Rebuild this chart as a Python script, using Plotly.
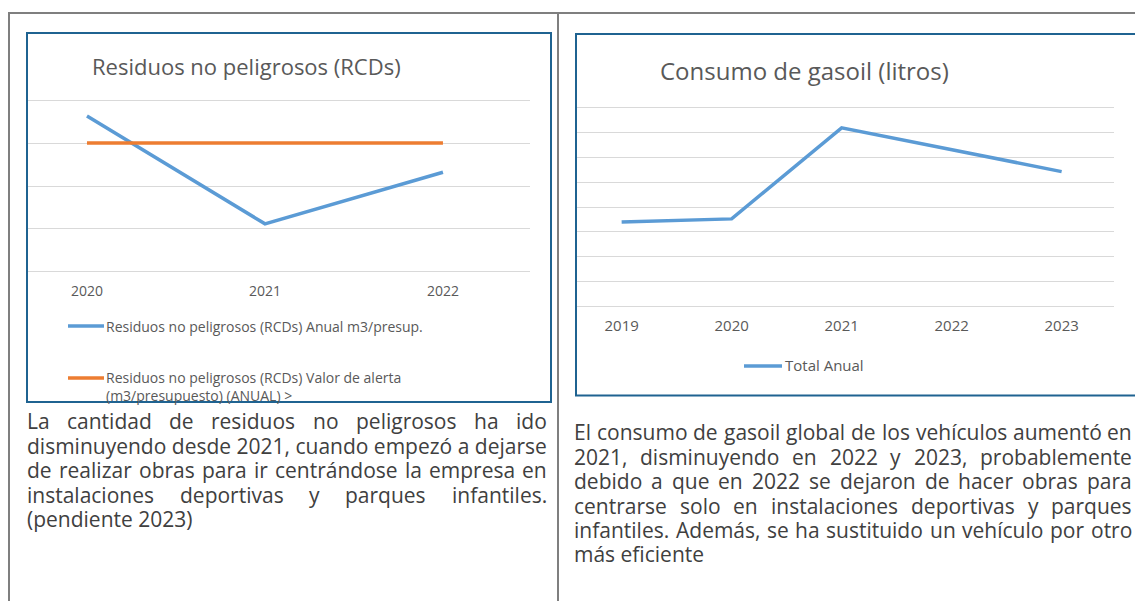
import plotly.graph_objects as go

W, H = 1135, 601

# ---- data ----
rcd_years = [2020, 2021, 2022]
rcd_anual = [3.63, 1.12, 2.32]
rcd_alerta = [3.0, 3.0, 3.0]
rcd_title = "Residuos no peligrosos (RCDs)"
rcd_names = ["Residuos no peligrosos (RCDs) Anual m3/presup.",
             "Residuos no peligrosos (RCDs) Valor de alerta<br>(m3/presupuesto) (ANUAL) >"]

gas_years = [2019, 2020, 2021, 2022, 2023]
gas_total = [3.39, 3.52, 7.20, 6.33, 5.43]
gas_title = "Consumo de gasoil (litros)"
gas_name = "Total Anual"

left_text = ["La cantidad de residuos no peligrosos ha ido",
             "disminuyendo desde 2021, cuando empezó a dejarse",
             "de realizar obras para ir centrándose la empresa en",
             "instalaciones deportivas y parques infantiles.",
             "(pendiente 2023)"]
right_text = ["El consumo de gasoil global de los vehículos aumentó en",
              "2021, disminuyendo en 2022 y 2023, probablemente",
              "debido a que en 2022 se dejaron de hacer obras para",
              "centrarse solo en instalaciones deportivas y parques",
              "infantiles. Además, se ha sustituido un vehículo por otro",
              "más eficiente"]

BLUE = "#5B9BD5"
ORANGE = "#ED7D31"
GRID = "#D9D9D9"
TXT = "#595959"
BOX = "#1F6391"
TABLE = "#7F7F7F"
PARA = "#404040"
FONT = "Open Sans, sans-serif"
LW = 3.5


def X(px):
    return px / W


def Y(py):
    return 1 - py / H


# approximate Open Sans advance widths (em)
CW = {' ': .26, 'a': .556, 'b': .613, 'c': .480, 'd': .613, 'e': .561, 'f': .336,
      'g': .546, 'h': .614, 'i': .252, 'j': .252, 'k': .529, 'l': .252, 'm': .931,
      'n': .614, 'o': .603, 'p': .613, 'q': .613, 'r': .409, 's': .477, 't': .353,
      'u': .614, 'v': .499, 'w': .774, 'x': .524, 'y': .499, 'z': .470,
      'á': .556, 'é': .561, 'í': .252, 'ó': .603, 'ú': .614,
      ',': .245, '.': .266, '(': .296, ')': .296,
      'L': .519, 'E': .556, 'A': .633}
for d in "0123456789":
    CW[d] = .572


def tw(s, size):
    return sum(CW.get(c, .58) for c in s) * size


fig = go.Figure()
fig.add_trace(go.Scatter(x=rcd_years, y=rcd_anual, mode="lines",
                         line=dict(color=BLUE, width=LW), xaxis="x", yaxis="y",
                         showlegend=False))
fig.add_trace(go.Scatter(x=rcd_years, y=rcd_alerta, mode="lines",
                         line=dict(color=ORANGE, width=LW), xaxis="x", yaxis="y",
                         showlegend=False))
fig.add_trace(go.Scatter(x=gas_years, y=gas_total, mode="lines",
                         line=dict(color=BLUE, width=LW), xaxis="x2", yaxis="y2",
                         showlegend=False))

axis_common = dict(showline=False, zeroline=False, ticks="", fixedrange=True)
fig.update_layout(
    width=W, height=H, margin=dict(l=0, r=0, t=0, b=0),
    paper_bgcolor="white", plot_bgcolor="white",
    font=dict(family=FONT, color=TXT),
    xaxis=dict(domain=[X(27), X(530)], range=[2019.663, 2022.489],
               tickvals=rcd_years, ticktext=[str(v) for v in rcd_years],
               showgrid=False, anchor="y", ticklabelstandoff=7,
               tickfont=dict(size=14, color=TXT), **axis_common),
    yaxis=dict(domain=[Y(274.1), Y(97.9)], range=[-0.05, 4.05], dtick=1,
               showticklabels=False, showgrid=True, gridcolor=GRID, gridwidth=1.3,
               anchor="x", **axis_common),
    xaxis2=dict(domain=[X(575), X(1114)], range=[2018.576, 2023.476],
                tickvals=gas_years, ticktext=[str(v) for v in gas_years],
                showgrid=False, anchor="y2", ticklabelstandoff=6,
                tickfont=dict(size=15, color=TXT), **axis_common),
    yaxis2=dict(domain=[Y(308.5), Y(105.5)], range=[-0.1, 8.1], dtick=1,
                showticklabels=False, showgrid=True, gridcolor=GRID, gridwidth=1.3,
                anchor="x2", **axis_common),
)

shapes = []
# table lines
shapes.append(dict(type="line", xref="paper", yref="paper", x0=X(8), x1=1, y0=Y(13), y1=Y(13),
                   line=dict(color=TABLE, width=2)))
shapes.append(dict(type="line", xref="paper", yref="paper", x0=X(9), x1=X(9), y0=Y(13), y1=0,
                   line=dict(color=TABLE, width=2)))
shapes.append(dict(type="line", xref="paper", yref="paper", x0=X(558), x1=X(558), y0=Y(13), y1=0,
                   line=dict(color=TABLE, width=2)))
# chart boxes
shapes.append(dict(type="rect", xref="paper", yref="paper", x0=X(27), x1=X(551), y0=Y(402), y1=Y(33),
                   line=dict(color=BOX, width=2)))
shapes.append(dict(type="rect", xref="paper", yref="paper", x0=X(576), x1=X(1145), y0=Y(395.5), y1=Y(34),
                   line=dict(color=BOX, width=2)))
# legend samples
shapes.append(dict(type="line", xref="paper", yref="paper", x0=X(68), x1=X(104), y0=Y(326), y1=Y(326),
                   line=dict(color=BLUE, width=LW)))
shapes.append(dict(type="line", xref="paper", yref="paper", x0=X(68), x1=X(104), y0=Y(378), y1=Y(378),
                   line=dict(color=ORANGE, width=LW)))
shapes.append(dict(type="line", xref="paper", yref="paper", x0=X(744), x1=X(782), y0=Y(366), y1=Y(366),
                   line=dict(color=BLUE, width=LW)))
fig.update_layout(shapes=shapes)

ann = []
ann.append(dict(text=rcd_title, x=X(90), y=Y(66), xanchor="left", yanchor="middle",
                font=dict(size=22, color=TXT)))
ann.append(dict(text=gas_title, x=X(658), y=Y(70), xanchor="left", yanchor="middle",
                font=dict(size=24, color=TXT)))
ann.append(dict(text=rcd_names[0], x=X(104), y=Y(326), xanchor="left", yanchor="middle",
                font=dict(size=14, color=TXT)))
ann.append(dict(text=rcd_names[1], x=X(104), y=Y(386), xanchor="left", yanchor="middle",
                align="left", font=dict(size=14, color=TXT)))
ann.append(dict(text=gas_name, x=X(783), y=Y(365), xanchor="left", yanchor="middle",
                font=dict(size=15, color=TXT)))

PSIZE = 21


def paragraph(lines, ys, x_left, x_right):
    out = []
    space = tw(" ", PSIZE)
    for k, (line, yy) in enumerate(zip(lines, ys)):
        words = line.split(" ")
        widths = [tw(w, PSIZE) for w in words]
        gap = (x_right - x_left - sum(widths)) / (len(words) - 1) if len(words) > 1 else 0
        last = k == len(lines) - 1
        if last or gap < space:
            # line set as a whole (normal word spacing)
            out.append(dict(text=line, x=X(x_left - 2), y=Y(yy), xanchor="left", yanchor="middle",
                            font=dict(size=PSIZE, color=PARA)))
            continue
        # justified line: words spread to fill the column
        xp = x_left
        for w, wd in zip(words, widths):
            out.append(dict(text=w, x=X(xp + wd / 2), y=Y(yy), xanchor="center", yanchor="middle",
                            font=dict(size=PSIZE, color=PARA)))
            xp += wd + gap
    return out


ann += paragraph(left_text, [421, 446, 470, 495, 519], 27, 547)
ann += paragraph(right_text, [432, 457, 481, 506, 530, 554], 574, 1132)

for a in ann:
    a.update(xref="paper", yref="paper", showarrow=False)
fig.update_layout(annotations=ann)

fig.write_html("out.html", config={"displayModeBar": False},
               post_script="document.body.style.margin='0px';")
